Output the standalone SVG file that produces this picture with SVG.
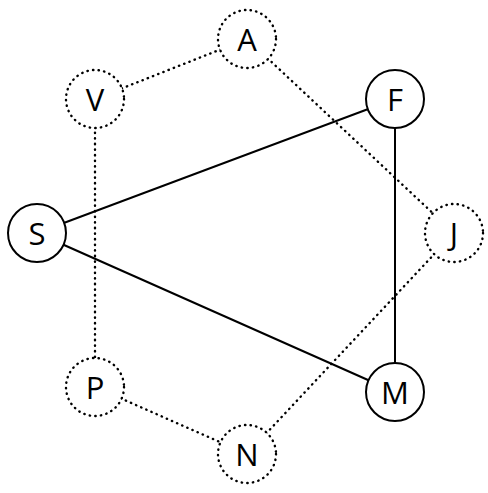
<svg xmlns="http://www.w3.org/2000/svg" width="488" height="493" viewBox="0 0 488 493">
<style>
.n circle{fill:#fff;stroke:#000;stroke-width:2}
.d circle{stroke-width:2.4;stroke-linecap:round;stroke-dasharray:0.4 5.2}
.n text{font-family:"Open Sans","Noto Sans",sans-serif;font-size:31px;text-anchor:middle;dominant-baseline:central;fill:#000}
.c line{stroke:#000;stroke-width:2}
.c .dot{stroke-width:2.4;stroke-linecap:round;stroke-dasharray:0.4 5.2}
</style>
<rect width="488" height="493" fill="#fff"/>
<g class="c">
<line class="dot" x1="247" y1="39" x2="95" y2="99"/>
<line class="dot" x1="247" y1="39" x2="454" y2="233"/>
<line class="dot" x1="95" y1="99" x2="95" y2="387"/>
<line class="dot" x1="95" y1="387" x2="247" y2="454"/>
<line class="dot" x1="247" y1="454" x2="454" y2="233"/>
<line x1="37" y1="233" x2="395" y2="99"/>
<line x1="37" y1="233" x2="395" y2="392"/>
<line x1="395" y1="99" x2="395" y2="392"/>
</g>
<g id="A" class="n d"><circle cx="247" cy="39" r="29"/><text x="247" y="39">A</text></g>
<g id="V" class="n d"><circle cx="95" cy="99" r="29"/><text x="95" y="99">V</text></g>
<g id="F" class="n"><circle cx="395" cy="99" r="29"/><text x="395" y="99">F</text></g>
<g id="S" class="n"><circle cx="37" cy="233" r="29"/><text x="37" y="233">S</text></g>
<g id="J" class="n d"><circle cx="454" cy="233" r="29"/><text x="454" y="233">J</text></g>
<g id="P" class="n d"><circle cx="95" cy="387" r="29"/><text x="95" y="387">P</text></g>
<g id="M" class="n"><circle cx="395" cy="392" r="29"/><text x="395" y="392">M</text></g>
<g id="N" class="n d"><circle cx="247" cy="454" r="29"/><text x="247" y="454">N</text></g>
</svg>
